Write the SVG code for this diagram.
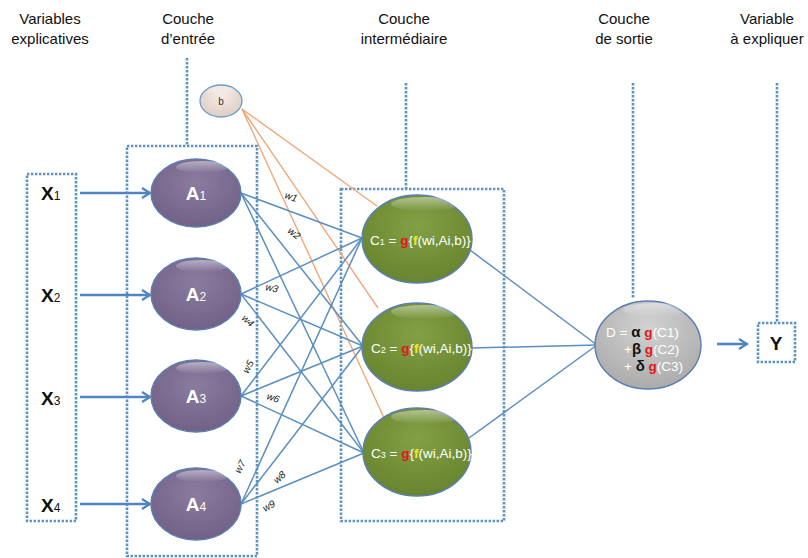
<svg xmlns="http://www.w3.org/2000/svg" width="808" height="558" viewBox="0 0 808 558">
  <defs>
    <radialGradient id="gA" cx="50%" cy="35%" r="70%">
      <stop offset="0" stop-color="#8b7b9f"/>
      <stop offset="1" stop-color="#705f85"/>
    </radialGradient>
    <radialGradient id="gC" cx="50%" cy="35%" r="70%">
      <stop offset="0" stop-color="#82a044"/>
      <stop offset="1" stop-color="#66822e"/>
    </radialGradient>
    <radialGradient id="gD" cx="50%" cy="30%" r="70%">
      <stop offset="0" stop-color="#d2d2d2"/>
      <stop offset="1" stop-color="#ababab"/>
    </radialGradient>
    <radialGradient id="gB" cx="50%" cy="35%" r="70%">
      <stop offset="0" stop-color="#f6ece6"/>
      <stop offset="1" stop-color="#dccbc0"/>
    </radialGradient>
    <linearGradient id="shine" x1="0" y1="0" x2="0" y2="1">
      <stop offset="0" stop-color="#ffffff" stop-opacity="0.45"/>
      <stop offset="1" stop-color="#ffffff" stop-opacity="0"/>
    </linearGradient>
    <marker id="arr" markerUnits="userSpaceOnUse" markerWidth="14" markerHeight="14" refX="10" refY="6" orient="auto">
      <path d="M2,1 L10,6 L2,11" fill="none" stroke="#4f86c0" stroke-width="2.2"/>
    </marker>
  </defs>
  <style>
    .hdr { font-family: "Liberation Sans", Arial, sans-serif; font-size: 15px; fill: #111; text-anchor: middle; }
    .dot { fill: none; stroke: #5b92c8; stroke-width: 2.6; stroke-dasharray: 2.4 1.6; }
    .wire { fill: none; stroke: #5a8fc2; stroke-width: 1.5; }
    .bias { fill: none; stroke: #f0a878; stroke-width: 1.4; }
    .feed { fill: none; stroke: #4f86c0; stroke-width: 2.6; }
    .nodeA { fill: url(#gA); stroke: #5a7fb0; stroke-width: 1.4; }
    .nodeC { fill: url(#gC); stroke: #5a7fb0; stroke-width: 1.4; }
    .shine { fill: url(#shine); }
    .xl { font-family: "Liberation Sans", Arial, sans-serif; font-size: 19px; font-weight: bold; fill: #111; }
    .al { font-family: "Liberation Sans", Arial, sans-serif; font-size: 19px; font-weight: bold; fill: #ffffff; text-anchor: middle; }
    .cl { font-family: "Liberation Sans", Arial, sans-serif; font-size: 13.5px; fill: #ffffff; }
    .dl { font-family: "Liberation Sans", Arial, sans-serif; font-size: 13.5px; fill: #ffffff; }
    .red { fill: #e8141c; font-weight: bold; }
    .yel { fill: #eeea1c; font-weight: bold; }
    .blk { fill: #111111; font-weight: bold; }
    .w { font-family: "Liberation Sans", Arial, sans-serif; font-size: 10px; font-style: italic; fill: #222; }
  </style>

  <rect width="808" height="558" fill="#ffffff"/>

  <!-- column headings -->
  <g id="headings">
    <text class="hdr" x="50" y="24">Variables</text>
    <text class="hdr" x="50" y="44">explicatives</text>
    <text class="hdr" x="188" y="24">Couche</text>
    <text class="hdr" x="188" y="44">d’entrée</text>
    <text class="hdr" x="404" y="24">Couche</text>
    <text class="hdr" x="404" y="44">intermédiaire</text>
    <text class="hdr" x="624" y="24">Couche</text>
    <text class="hdr" x="624" y="44">de sortie</text>
    <text class="hdr" x="767" y="24">Variable</text>
    <text class="hdr" x="767" y="44">à expliquer</text>
  </g>

  <!-- dotted frames and leader lines -->
  <g id="frames">
    <rect class="dot" x="27" y="174" width="49" height="347"/>
    <rect class="dot" x="127" y="146" width="130" height="410"/>
    <rect class="dot" x="341" y="189" width="163" height="332"/>
    <rect class="dot" x="758" y="323" width="37" height="39"/>
    <line class="dot" x1="187" y1="58" x2="187" y2="146"/>
    <line class="dot" x1="406" y1="83" x2="406" y2="189"/>
    <line class="dot" x1="633" y1="83" x2="633" y2="298"/>
    <line class="dot" x1="777" y1="83" x2="777" y2="323"/>
  </g>

  <!-- connectors -->
  <g id="connectors">
    <!-- bias links -->
    <line class="bias" x1="242" y1="109" x2="377" y2="206"/>
    <line class="bias" x1="242" y1="109" x2="378" y2="308"/>
    <line class="bias" x1="242" y1="109" x2="385" y2="420"/>
    <!-- input to hidden -->
    <line class="wire" x1="241" y1="193" x2="362" y2="238"/>
    <line class="wire" x1="241" y1="193" x2="363" y2="346"/>
    <line class="wire" x1="241" y1="193" x2="364" y2="453"/>
    <line class="wire" x1="241" y1="294" x2="362" y2="238"/>
    <line class="wire" x1="241" y1="294" x2="363" y2="346"/>
    <line class="wire" x1="241" y1="294" x2="364" y2="453"/>
    <line class="wire" x1="241" y1="396" x2="362" y2="238"/>
    <line class="wire" x1="241" y1="396" x2="363" y2="346"/>
    <line class="wire" x1="241" y1="396" x2="364" y2="453"/>
    <line class="wire" x1="241" y1="504" x2="362" y2="238"/>
    <line class="wire" x1="241" y1="504" x2="363" y2="346"/>
    <line class="wire" x1="241" y1="504" x2="364" y2="453"/>
    <!-- hidden to output -->
    <line class="wire" x1="470" y1="250" x2="597" y2="345"/>
    <line class="wire" x1="472" y1="348" x2="597" y2="345"/>
    <line class="wire" x1="469" y1="438" x2="597" y2="345"/>
    <!-- feeds -->
    <line class="feed" x1="80" y1="193" x2="150" y2="193" marker-end="url(#arr)"/>
    <line class="feed" x1="80" y1="295" x2="150" y2="295" marker-end="url(#arr)"/>
    <line class="feed" x1="80" y1="397" x2="150" y2="397" marker-end="url(#arr)"/>
    <line class="feed" x1="80" y1="504" x2="150" y2="504" marker-end="url(#arr)"/>
    <line class="feed" x1="717" y1="344" x2="747" y2="344" marker-end="url(#arr)"/>
  </g>

  <!-- weight labels -->
  <g id="weights">
    <text class="w" transform="translate(284,198) rotate(18)">w1</text>
    <text class="w" transform="translate(287,232) rotate(38)">w2</text>
    <text class="w" transform="translate(265,290) rotate(12)">w3</text>
    <text class="w" transform="translate(241,319) rotate(42)">w4</text>
    <text class="w" transform="translate(248,374) rotate(-62)">w5</text>
    <text class="w" transform="translate(266,399) rotate(18)">w6</text>
    <text class="w" transform="translate(240,474) rotate(-62)">w7</text>
    <text class="w" transform="translate(277,484) rotate(-42)">w8</text>
    <text class="w" transform="translate(265,512) rotate(-30)">w9</text>
  </g>

  <!-- explanatory variables -->
  <g id="x1"><text class="xl" x="41" y="200">X<tspan font-size="12" font-weight="normal">1</tspan></text></g>
  <g id="x2"><text class="xl" x="41" y="302">X<tspan font-size="12" font-weight="normal">2</tspan></text></g>
  <g id="x3"><text class="xl" x="41" y="405">X<tspan font-size="12" font-weight="normal">3</tspan></text></g>
  <g id="x4"><text class="xl" x="41" y="512">X<tspan font-size="12" font-weight="normal">4</tspan></text></g>

  <!-- bias node -->
  <g id="b">
    <ellipse cx="221" cy="101" rx="21" ry="16" fill="url(#gB)" stroke="#6d9bcf" stroke-width="1.3"/>
    <ellipse class="shine" cx="221" cy="91" rx="14" ry="5"/>
    <text x="221" y="105" font-family="Liberation Sans, Arial, sans-serif" font-size="10" fill="#333" text-anchor="middle">b</text>
  </g>

  <!-- input layer -->
  <g id="a1">
    <ellipse class="nodeA" cx="196" cy="193" rx="45" ry="34"/>
    <ellipse class="shine" cx="202" cy="167" rx="26" ry="6"/>
    <text class="al" x="196" y="200">A<tspan font-size="12" font-weight="normal">1</tspan></text>
  </g>
  <g id="a2">
    <ellipse class="nodeA" cx="196" cy="294" rx="45" ry="36"/>
    <ellipse class="shine" cx="202" cy="266" rx="26" ry="6"/>
    <text class="al" x="196" y="301">A<tspan font-size="12" font-weight="normal">2</tspan></text>
  </g>
  <g id="a3">
    <ellipse class="nodeA" cx="196" cy="396" rx="45" ry="36"/>
    <ellipse class="shine" cx="202" cy="368" rx="26" ry="6"/>
    <text class="al" x="196" y="403">A<tspan font-size="12" font-weight="normal">3</tspan></text>
  </g>
  <g id="a4">
    <ellipse class="nodeA" cx="196" cy="504" rx="45" ry="36"/>
    <ellipse class="shine" cx="202" cy="476" rx="26" ry="6"/>
    <text class="al" x="196" y="511">A<tspan font-size="12" font-weight="normal">4</tspan></text>
  </g>

  <!-- hidden layer -->
  <g id="c1">
    <ellipse class="nodeC" cx="417" cy="239" rx="55" ry="44"/>
    <ellipse class="shine" cx="425" cy="204" rx="34" ry="7"/>
    <text class="cl" x="370" y="245">C<tspan font-size="9">1</tspan> = <tspan class="red">g</tspan>{<tspan class="yel">f</tspan>(wi,Ai,b)}</text>
  </g>
  <g id="c2">
    <ellipse class="nodeC" cx="417" cy="347" rx="55" ry="44"/>
    <ellipse class="shine" cx="425" cy="312" rx="34" ry="7"/>
    <text class="cl" x="371" y="353">C<tspan font-size="9">2</tspan> = <tspan class="red">g</tspan>{<tspan class="yel">f</tspan>(wi,Ai,b)}</text>
  </g>
  <g id="c3">
    <ellipse class="nodeC" cx="417" cy="452" rx="54" ry="44"/>
    <ellipse class="shine" cx="425" cy="417" rx="34" ry="7"/>
    <text class="cl" x="371" y="458">C<tspan font-size="9">3</tspan> = <tspan class="red">g</tspan>{<tspan class="yel">f</tspan>(wi,Ai,b)}</text>
  </g>

  <!-- output layer -->
  <g id="d">
    <ellipse cx="648" cy="345" rx="53" ry="44" fill="url(#gD)" stroke="#5a7fb0" stroke-width="1.4"/>
    <ellipse class="shine" cx="655" cy="310" rx="32" ry="7"/>
    <text class="dl" x="606" y="337">D =  <tspan class="blk" font-size="15">α</tspan> <tspan class="red">g</tspan>(C1)</text>
    <text class="dl" x="624" y="354">+<tspan class="blk" font-size="15">β</tspan> <tspan class="red">g</tspan>(C2)</text>
    <text class="dl" x="624" y="371">+ <tspan class="blk" font-size="15">δ</tspan> <tspan class="red">g</tspan>(C3)</text>
  </g>

  <!-- response variable -->
  <g id="y">
    <text class="xl" x="776" y="350" text-anchor="middle" font-size="17">Y</text>
  </g>
</svg>
